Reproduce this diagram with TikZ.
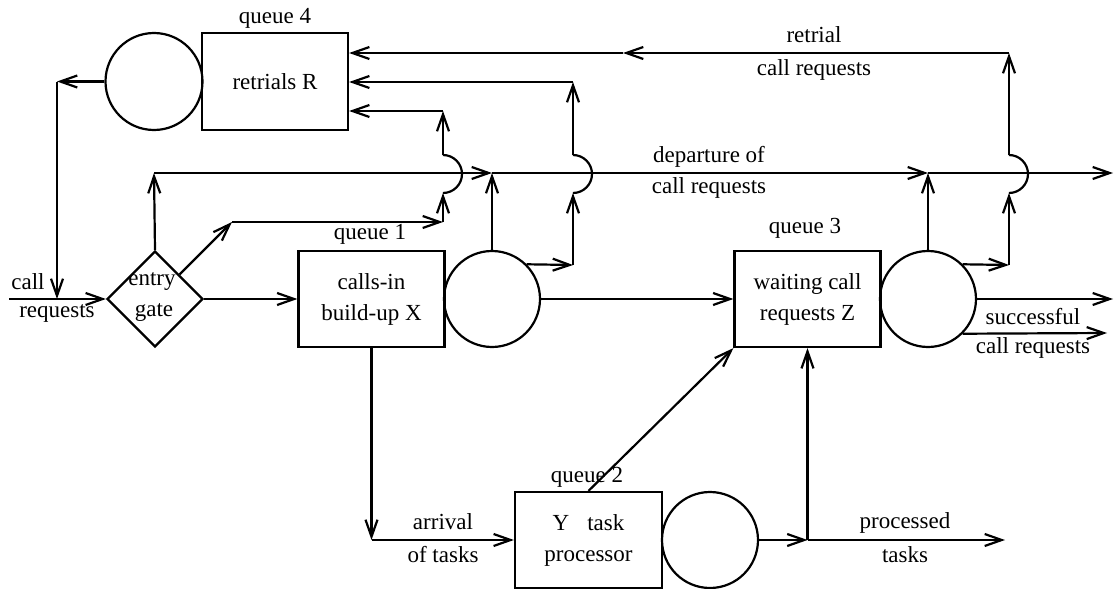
\documentclass[tikz,border=0pt]{standalone}
\usepackage{fontspec}
\setmainfont{Liberation Serif}
\usetikzlibrary{arrows.meta,shapes.geometric}
\begin{document}
\begin{tikzpicture}[x=0.5pt,y=-0.5pt,
  line width=1.1pt,
  arr/.style={-{Straight Barb[length=8.5pt,width=6pt]}},
  qbox/.style={draw,rectangle,minimum width=73pt,minimum height=48pt,inner sep=0pt,
    align=center,font=\fontsize{11.5}{15.5}\selectfont},
  srv/.style={draw,circle,minimum size=48pt,inner sep=0pt},
  gatebox/.style={draw,diamond,minimum width=48pt,minimum height=48pt,inner sep=0pt},
  lbl/.style={font=\fontsize{11.5}{13}\selectfont,inner sep=0pt}]
\useasboundingbox (0,0) rectangle (1115,589);
% nodes
\node[qbox,minimum height=48.5pt] (R) at (275,81.5) {retrials R};
\node[srv,minimum size=48.5pt] (cR) at (154,81.5) {};
\node[qbox] (X) at (371.5,299) {calls-in\\build-up X};
\node[srv] (cX) at (492,299) {};
\node[qbox] (Z) at (807.5,299) {waiting call\\requests Z};
\node[srv] (cZ) at (928,299) {};
\node[qbox,minimum width=73.5pt] (Y) at (588.5,540) {Y\hspace{9pt}task\\processor};
\node[srv] (cY) at (710,540) {};
\node[gatebox] (D) at (155,299) {};
% labels
\node[lbl] (q4) at (275,18) {queue 4};
\node[lbl] (q1) at (370,234) {queue 1};
\node[lbl] (q3) at (805,228) {queue 3};
\node[lbl] (q2) at (587,477) {queue 2};
\node[lbl] (ta) at (814,35) {retrial};
\node[lbl] (tb) at (814,70) {call requests};
\node[lbl] (tc) at (709,157) {departure of};
\node[lbl] (td) at (709,188) {call requests};
\node[lbl] (te) at (28,282) {call};
\node[lbl] (tf) at (57,313) {requests};
\node[lbl] (tg) at (152,282) {entry};
\node[lbl] (th) at (154,313) {gate};
\node[lbl] (ti) at (1033,317) {successful};
\node[lbl] (tj) at (1033,348) {call requests};
\node[lbl] (tk) at (443,522) {arrival};
\node[lbl] (tl) at (443,555) {of tasks};
\node[lbl] (tm) at (905,523) {processed};
\node[lbl] (tn) at (905,555) {tasks};
% coordinates
\coordinate (in0) at (9,299);
\coordinate (k1) at (57,81.5);
\coordinate (k2) at (57,299);
\coordinate (m0) at (154,173);
\coordinate (m1) at (492,173);
\coordinate (m2) at (928,173);
\coordinate (m3) at (1113,173);
\coordinate (g1) at (232,222);
\coordinate (g2) at (443,222);
\coordinate (h1b) at (443,193);
\coordinate (h1t) at (443,155);
\coordinate (g3) at (443,111);
\coordinate (x1) at (573,265);
\coordinate (h2b) at (573,193);
\coordinate (h2t) at (573,155);
\coordinate (x2) at (573,82);
\coordinate (z1) at (1009,265);
\coordinate (h3b) at (1009,193);
\coordinate (h3t) at (1009,155);
\coordinate (z2) at (1009,53);
\coordinate (z3) at (623,53);
\coordinate (s1) at (1113,299);
\coordinate (s2) at (1107,333);
\coordinate (a1) at (371.5,540);
\coordinate (p1) at (807.5,540);
\coordinate (p2) at (1005,540);
% connectors
\draw[arr] (in0) -- (D.west);
\draw[arr] (cR.west) -- (k1);
\draw[arr] (k1) -- (k2);
\draw[arr] (D.east) -- (X.west);
\draw[arr] (D.north) -- (m0);
\draw[arr] (m0) -- (m1);
\draw[arr] (m1) -- (m2);
\draw[arr] (m2) -- (m3);
\draw[arr] (D.north east) -- (g1);
\draw[arr] (g1) -- (g2);
\draw[arr] (g2) -- (h1b);
\draw (h1b) arc[start angle=90,end angle=-90,radius=19];
\draw[arr] (h1t) -- (g3);
\draw[arr] (g3) -- (R.east |- g3);
\draw[arr] (cX.north) -- (m1);
\draw[arr] (cX.45) -- (x1);
\draw[arr] (x1) -- (h2b);
\draw (h2b) arc[start angle=90,end angle=-90,radius=19];
\draw[arr] (h2t) -- (x2);
\draw[arr] (x2) -- (R.east |- x2);
\draw[arr] (cX.east) -- (Z.west);
\draw[arr] (X.south) -- (a1);
\draw[arr] (a1) -- (Y.west);
\draw[arr] (Y.north) -- (Z.south west);
\draw[arr] (cY.east) -- (p1);
\draw[arr] (p1) -- (Z.south);
\draw[arr] (p1) -- (p2);
\draw[arr] (cZ.north) -- (m2);
\draw[arr] (cZ.east) -- (s1);
\draw[arr] (cZ.-45) -- (s2);
\draw[arr] (cZ.45) -- (z1);
\draw[arr] (z1) -- (h3b);
\draw (h3b) arc[start angle=90,end angle=-90,radius=19];
\draw[arr] (h3t) -- (z2);
\draw[arr] (z2) -- (z3);
\draw[arr] (z3) -- (R.east |- z3);
\end{tikzpicture}
\end{document}
